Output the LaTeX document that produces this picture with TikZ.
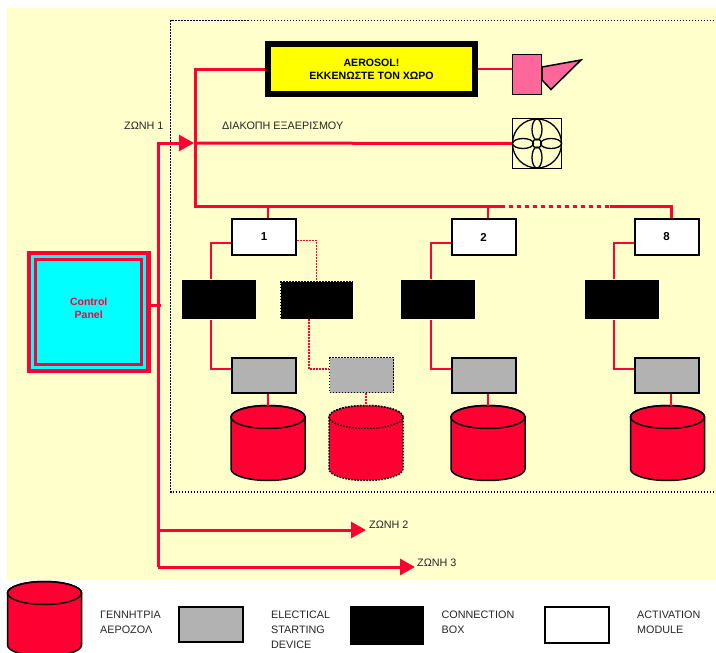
\documentclass[tikz,border=0pt]{standalone}
\usepackage{fontspec}
\setmainfont{Liberation Sans}
\usetikzlibrary{positioning,shapes.geometric,arrows.meta}
\definecolor{AlarmRed}{RGB}{255,0,51}
\definecolor{PaleCream}{RGB}{255,255,204}
\definecolor{StarterGrey}{RGB}{178,178,178}
\definecolor{HornPink}{RGB}{255,102,153}
\definecolor{PanelCyan}{RGB}{0,255,255}
\definecolor{BannerYellow}{RGB}{255,255,0}
\begin{document}
\begin{tikzpicture}[
    x=1pt, y=-1pt,
    txt/.style={inner sep=0pt, anchor=west, align=left, text=black!85,
      font=\fontsize{10.8}{15}\selectfont},
    basebox/.style={rectangle, inner sep=0pt, line width=2pt, draw=black,
      minimum width=64pt, minimum height=36pt,
      font=\fontsize{11.5}{13}\selectfont\bfseries},
    modbox/.style={basebox, fill=white},
    startbox/.style={basebox, fill=StarterGrey, minimum height=35pt},
    linkbox/.style={basebox, draw=none, fill=black, minimum width=74pt, minimum height=39pt},
    dots/.style={dash pattern=on 1.5pt off 1.5pt},
    bus/.style={draw=AlarmRed, line width=3pt},
    wire/.style={draw=AlarmRed, line width=1.5pt},
    arr/.style={-{Triangle[length=15pt, width=16pt]}, draw=AlarmRed, line width=3pt},
    genbox/.pic={
      \coordinate (-top) at (0,0);
      \draw[fill=AlarmRed, line width=1.5pt, pic actions] (-37,11.5) -- (-37,63.5)
        arc[start angle=180, end angle=360, x radius=37pt, y radius=11.5pt]
        -- (37,11.5) arc[start angle=0, end angle=180, x radius=37pt, y radius=11.5pt] -- cycle;
      \draw[line width=1.5pt, pic actions] (0,11.5) ellipse [x radius=37pt, y radius=11.5pt];
    }
  ]
    \useasboundingbox (0,0) rectangle (716,653);
    \fill[PaleCream] (7,8) rectangle (716,580);
    \draw[line width=1.5pt, dots] (720,20.5) -- (170.5,20.5) -- (170.5,492) -- (720,492);

    % Nodes
    \node[rectangle, draw=black, fill=BannerYellow, line width=6pt, minimum width=207pt, minimum height=50pt,
      inner sep=0pt, align=center, font=\fontsize{10.6}{13}\selectfont\bfseries] (banner) at (371.5,69) {AEROSOL!\\ΕΚΚΕΝΩΣΤΕ ΤΟΝ ΧΩΡΟ};
    \draw[draw=black, fill=HornPink, line width=1.5pt] (542,67) -- (581,60) -- (551,89.5) -- (542,80) -- cycle;
    \node[rectangle, draw=black, fill=HornPink, line width=1.5pt, inner sep=0pt, minimum width=29pt, minimum height=40pt] (horn) at (527,74.5) {};
    \node[rectangle, draw=black, line width=1.5pt, inner sep=0pt, minimum width=49pt, minimum height=50pt] (fan) at (537,143.5) {};
    \draw[line width=1.3pt] (537,143.5) circle (24.5) (537,143.5) circle (4.5);
    \draw[line width=1.3pt] (537,129.5) ellipse [x radius=5, y radius=10.5] (537,157.5) ellipse [x radius=5, y radius=10.5]
      (523,143.5) ellipse [x radius=10.5, y radius=5] (551,143.5) ellipse [x radius=10.5, y radius=5];

    \node[rectangle, draw=AlarmRed, fill=PanelCyan, line width=4.5pt, inner sep=0pt, minimum width=119.3pt, minimum height=118pt] (panel) at (88.8,312) {};
    \node[rectangle, draw=AlarmRed, fill=PanelCyan, line width=3.4pt, inner sep=0pt, minimum width=105.8pt, minimum height=105.5pt] (panelin) at (88.6,312) {};
    \node[inner sep=0pt, align=center, text=AlarmRed, font=\fontsize{10.5}{13}\selectfont\bfseries] (paneltxt) at (88.7,308) {Control\\Panel};

    \node[modbox] (mod1) at (264,237) {1};
    \node[modbox] (mod2) at (483.5,237) {2};
    \node[modbox] (mod8) at (666.5,237) {8};

    \node[linkbox] (link1) at (218.5,299.5) {};
    \node[linkbox, draw=black, line width=1pt, dots, minimum width=72pt, minimum height=37pt] (link1b) at (316.5,300) {};
    \node[linkbox] (link2) at (438,299.5) {};
    \node[linkbox] (link8) at (621.5,299.5) {};

    \node[startbox] (start1) at (264,375) {};
    \node[startbox, line width=1.5pt, dots] (start1b) at (361.5,375) {};
    \node[startbox] (start2) at (483.5,375) {};
    \node[startbox] (start8) at (666.5,375) {};

    \pic (gen1) at (268,405.5) {genbox};
    \pic[dots] (gen1b) at (366,405.5) {genbox};
    \pic (gen2) at (488,405.5) {genbox};
    \pic (gen8) at (667.5,405.5) {genbox};

    % Labels
    \node[txt] (zone1) at (124,125.5) {ΖΩΝΗ 1};
    \node[txt] (fanoff) at (222,125.5) {ΔΙΑΚΟΠΗ ΕΞΑΕΡΙΣΜΟΥ};
    \node[txt] (zone2) at (369,524.5) {ΖΩΝΗ 2};
    \node[txt] (zone3) at (417,562.5) {ΖΩΝΗ 3};

    % Legend
    \pic (keygen) at (44.5,581.5) {genbox};
    \node[txt] (keygentxt) at (100,622) {ΓΕΝΝΗΤΡΙΑ\\ΑΕΡΟΖΟΛ};
    \node[startbox] (keystart) at (210.5,624.5) {};
    \node[txt] (keystarttxt) at (271,630) {ELECTICAL\\STARTING\\DEVICE};
    \node[linkbox] (keylink) at (387,625.5) {};
    \node[txt] (keylinktxt) at (441.5,622) {CONNECTION\\BOX};
    \node[modbox] (keymod) at (577,625) {};
    \node[txt] (keymodtxt) at (637,622) {ACTIVATION\\MODULE};

    % Buses
    \coordinate (bustop) at (195,69);
    \coordinate (buscorner) at (195,206);
    \coordinate (busdots) at (501,206);
    \coordinate (busdotsend) at (610,206);
    \coordinate (busend) at (671,206);
    \coordinate (trunktop) at (158,143);
    \coordinate (feed) at (194,143);
    \coordinate (trunkz2) at (158,530);
    \coordinate (z2tip) at (366,530);
    \coordinate (trunkz3) at (158,567);
    \coordinate (z3tip) at (415,567);

    \draw[bus] (banner.west) -- (bustop) -- (buscorner) -- (busdots);
    \draw[bus, dash pattern=on 4pt off 4pt] (busdots) -- (busdotsend);
    \draw[bus] (busdotsend) -- (busend) -- (busend |- mod8.north);
    \draw[bus] (feed) -- (fan.west);
    \draw[arr, line join=miter] (trunkz3) -- (trunktop) -- (feed);
    \draw[arr] (trunkz2) -- (z2tip);
    \draw[arr] (trunkz3) -- (z3tip);
    \draw[bus] ([xshift=-3pt, yshift=7pt]panel.east) -- ++(13,0);

    % Arrows
    \draw[wire] (banner.east) -- (banner.east -| horn.west);
    \draw[wire, line width=2pt] (gen1-top |- buscorner) -- (gen1-top |- mod1.north);
    \draw[wire, line width=2pt] (gen2-top |- buscorner) -- (gen2-top |- mod2.north);

    \draw[wire] ([yshift=-6pt]mod1.west) -| ([xshift=-7.5pt]link1.north);
    \draw[wire] ([xshift=-7.5pt]link1.south) |- (start1.west |- 231,369);
    \draw[wire, line width=2pt] (gen1-top |- start1.south) -- (gen1-top);
    \draw[wire, dots] ([yshift=-3.5pt]mod1.east) -| (link1b.north);
    \draw[wire, dots] ([xshift=-7.5pt]link1b.south) |- (start1b.west |- 329,369);
    \draw[wire, dots, line width=2pt] (gen1b-top |- start1b.south) -- (gen1b-top);

    \draw[wire] ([yshift=-6pt]mod2.west) -| ([xshift=-7pt]link2.north);
    \draw[wire] ([xshift=-7pt]link2.south) |- (start2.west |- 451,369);
    \draw[wire, line width=2pt] (gen2-top |- start2.south) -- (gen2-top);

    \draw[wire] ([yshift=-6pt]mod8.west) -| ([xshift=-7.5pt]link8.north);
    \draw[wire] ([xshift=-7.5pt]link8.south) |- (start8.west |- 634,369);
    \draw[wire, line width=2pt] (busend |- start8.south) -- (busend |- gen8-top);

  \end{tikzpicture}
\end{document}
